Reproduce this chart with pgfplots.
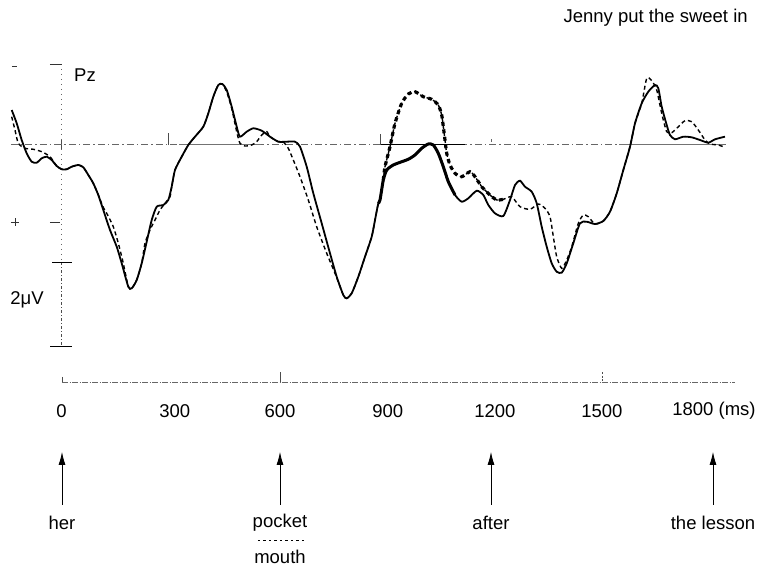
\documentclass[border=0pt]{standalone}
\usepackage{pgfplots}
\pgfplotsset{compat=1.18}
\usepackage{pgfplotstable}
\usepackage{fontspec}
\setmainfont{Liberation Sans}
\usetikzlibrary{arrows.meta}

% pocket (solid): time in ms, amplitude in microvolt (negative plotted up)
\pgfplotstableread{
t v
-137.7 -0.821
-123.7 -0.505
-109.8 -0.107
-95.8 0.210
-81.8 0.410
-67.9 0.433
-53.9 0.329
-39.9 0.290
-26.0 0.369
-12.0 0.512
2.0 0.590
15.9 0.590
29.9 0.529
48.3 0.488
62.3 0.543
76.3 0.726
90.2 0.924
104.2 1.202
118.2 1.560
136.9 2.036
155.6 2.433
169.6 2.829
188.0 3.386
197.5 3.424
211.5 3.226
225.4 2.829
239.4 2.314
253.4 1.798
267.3 1.481
285.8 1.440
299.7 1.321
309.2 1.005
318.4 0.607
337.2 0.290
355.6 0.012
374.3 -0.186
397.5 -0.424
411.5 -0.743
425.4 -1.138
439.4 -1.417
450.6 -1.440
462.9 -1.298
476.8 -0.900
490.8 -0.424
500.0 -0.186
518.7 -0.305
537.2 -0.386
560.6 -0.329
583.8 -0.186
607.0 -0.067
630.4 -0.067
653.6 -0.067
667.6 0.052
686.3 0.529
704.8 1.162
728.2 1.876
751.4 2.590
770.1 3.148
788.5 3.583
798.0 3.662
812.0 3.543
830.5 3.148
849.2 2.671
867.9 2.195
877.1 1.798
886.3 1.400
891.1 1.321
900.3 0.845
909.8 0.607
928.2 0.488
951.7 0.410
970.1 0.352
988.8 0.250
1007.5 0.090
1026.0 -0.012
1040.0 0.012
1053.9 0.210
1067.9 0.529
1081.9 0.886
1100.6 1.202
1119.3 1.362
1137.7 1.281
1161.2 1.100
1179.6 1.202
1193.6 1.440
1212.3 1.638
1235.5 1.702
1254.2 1.321
1268.2 0.964
1282.1 0.862
1296.1 1.005
1314.8 1.124
1328.8 1.400
1342.7 1.957
1356.7 2.433
1370.7 2.829
1384.6 3.029
1398.6 3.052
1412.6 2.829
1431.0 2.352
1449.7 1.876
1468.4 1.838
1491.6 1.893
1514.8 1.821
1533.5 1.600
1552.3 1.162
1570.7 0.607
1589.4 0.052
1603.4 -0.505
1622.1 -0.981
1640.5 -1.257
1659.2 -1.417
1668.5 -1.338
1677.9 -0.900
1691.9 -0.464
1701.1 -0.226
1715.1 -0.124
1738.3 -0.186
1761.7 -0.171
1784.9 -0.107
1808.1 -0.043
1826.8 -0.124
1854.7 -0.186
}\solid

% mouth (dashed)
\pgfplotstableread{
t v
-137.7 -0.662
-128.5 -0.345
-119.3 -0.029
-100.6 0.090
-77.4 0.114
-53.9 0.171
-30.7 0.290
-12.0 0.512
2.0 0.590
15.9 0.590
29.9 0.529
48.3 0.488
62.3 0.543
76.3 0.726
90.2 0.924
104.2 1.202
118.2 1.500
127.7 1.638
146.1 1.957
160.1 2.352
173.2 2.798
188.0 3.386
197.5 3.424
211.5 3.226
225.4 2.829
234.6 2.352
248.6 2.036
262.6 1.798
276.5 1.560
290.5 1.400
304.5 1.243
309.2 1.005
318.4 0.607
337.2 0.290
355.6 0.012
374.3 -0.186
397.5 -0.424
411.5 -0.743
425.4 -1.138
439.4 -1.417
450.6 -1.440
462.9 -1.250
476.8 -0.860
490.8 -0.305
500.0 -0.029
514.0 0.036
532.7 0.012
546.6 -0.067
560.6 -0.226
574.6 -0.305
583.8 -0.186
607.0 -0.067
620.0 -0.067
634.9 0.090
648.9 0.369
667.6 0.767
690.8 1.321
714.2 1.957
742.2 2.590
765.4 3.067
788.5 3.583
798.0 3.662
812.0 3.543
830.5 3.148
849.2 2.671
867.9 2.195
877.1 1.798
886.3 1.400
891.1 1.321
900.3 0.845
905.0 0.529
919.0 0.052
933.0 -0.505
951.7 -0.981
970.1 -1.202
988.8 -1.257
1012.0 -1.138
1035.5 -1.076
1053.9 -0.940
1063.4 -0.702
1067.9 -0.424
1072.6 -0.107
1077.4 0.210
1086.6 0.488
1100.6 0.686
1119.3 0.767
1142.5 0.648
1156.5 0.767
1175.2 1.005
1198.3 1.202
1217.1 1.321
1235.5 1.305
1258.9 1.243
1282.1 1.481
1310.1 1.543
1333.3 1.417
1352.0 1.519
1365.9 1.719
1375.2 2.195
1384.6 2.671
1398.6 2.948
1412.6 2.750
1426.6 2.433
1445.0 1.876
1459.0 1.679
1472.9 1.719
1491.6 1.893
1514.8 1.821
1533.5 1.600
1552.3 1.162
1570.7 0.607
1589.4 0.052
1603.4 -0.505
1622.1 -0.981
1636.1 -1.576
1650.0 -1.519
1664.0 -1.298
1677.9 -0.743
1691.9 -0.305
1705.9 -0.281
1724.4 -0.424
1743.0 -0.567
1761.7 -0.543
1780.2 -0.345
1798.9 -0.107
1812.9 -0.012
1836.1 0.012
1854.7 0.067
}\dashedtab

\begin{document}
\begin{tikzpicture}[every node/.append style={font=\fontsize{18.5}{22}\selectfont, inner sep=0pt}]
\begin{axis}[
  scale only axis, width=759pt, height=573pt,
  xmin=-170.39, xmax=1949.72, ymin=-3.4405, ymax=10.2024,
  y dir=reverse, axis lines=none, clip=false,
]
\path (rel axis cs:0,0) rectangle (rel axis cs:1,1);
% baseline
\draw[black!60, line width=0.9pt, dash pattern=on 7pt off 3pt on 1.5pt off 3pt] (axis cs:-140,0) -- (axis cs:1858,0);
\draw[black, line width=1.6pt] (axis cs:891,0) -- (axis cs:1128,0);
\draw[black!55, line width=1.4pt] (axis cs:1560,0) -- (axis cs:1850,0);
\draw[black!55, line width=1pt] (axis cs:330,0) -- (axis cs:560,0);
\draw[black!70, line width=0.8pt] (axis cs:0,-0.12) -- (axis cs:0,0.12);
\draw[black!70, line width=0.8pt] (axis cs:299,-0.27) -- (axis cs:299,0);
\draw[black!70, line width=0.8pt] (axis cs:891,-0.25) -- (axis cs:891,0);
\draw[black!60, line width=0.8pt] (axis cs:1201,-0.12) -- (axis cs:1201,-0.06);
% voltage scale
\draw[black!60, line width=0.7pt, dash pattern=on 1pt off 4pt] (axis cs:0,-1.917) -- (axis cs:0,2.798);
\draw[black!70, line width=0.7pt, dash pattern=on 3pt off 2pt on 1pt off 2pt] (axis cs:0,2.798) -- (axis cs:0,4.798);
\draw[black!80, line width=0.8pt] (axis cs:-137,-1.87) -- (axis cs:-123,-1.87);
\draw[black!80, line width=0.8pt] (axis cs:-31,-1.917) -- (axis cs:3,-1.917);
\draw[black!80, line width=0.8pt] (axis cs:-139.7,1.845) -- (axis cs:-117.3,1.845);
\draw[black!80, line width=0.8pt] (axis cs:-128.5,1.75) -- (axis cs:-128.5,1.94);
\draw[black!80, line width=0.8pt] (axis cs:-31,1.845) -- (axis cs:-3,1.845);
\draw[black, line width=0.9pt] (axis cs:-25,2.798) -- (axis cs:30.7,2.798);
\draw[black, line width=0.9pt] (axis cs:-30.7,4.798) -- (axis cs:30.7,4.798);
\node at (axis cs:-95,3.70) {2μV};
\node at (axis cs:67,-1.655) {Pz};
\node at (axis cs:1661,-3.012) {Jenny put the sweet in};
% waveforms
\addplot[black, line width=1.4pt, dash pattern=on 4pt off 3pt, smooth, tension=0.4] table[x=t,y=v] {\dashedtab};
\addplot[black, line width=3.2pt, dash pattern=on 4pt off 3.5pt, smooth, tension=0.4, restrict x to domain=900:1236] table[x=t,y=v] {\dashedtab};
\addplot[black, line width=1.8pt, smooth, tension=0.4] table[x=t,y=v] {\solid};
\addplot[black, line width=3pt, smooth, tension=0.4, restrict x to domain=886:1101] table[x=t,y=v] {\solid};
% time axis
\draw[black!60, line width=0.8pt, dash pattern=on 6pt off 1.5pt on 1pt off 1.5pt] (axis cs:2.8,5.655) -- (axis cs:1882,5.655);
\draw[black!70, line width=0.8pt] (axis cs:2.8,5.53) -- (axis cs:2.8,5.655);
\draw[black!70, line width=0.8pt] (axis cs:612,5.417) -- (axis cs:612,5.655);
\draw[black!70, line width=0.8pt, dash pattern=on 2pt off 1.5pt] (axis cs:1511,5.417) -- (axis cs:1511,5.655);
\node at (axis cs:1.7,6.345) {0};
\node at (axis cs:318,6.345) {300};
\node at (axis cs:612,6.345) {600};
\node at (axis cs:913,6.345) {900};
\node at (axis cs:1212,6.345) {1200};
\node at (axis cs:1511,6.345) {1500};
\node at (axis cs:1824,6.345) {1800 (ms)};
% word onsets
\draw[black, line width=0.8pt, -{Latex[length=13pt,width=7pt]}] (axis cs:2.8,8.58) -- (axis cs:2.8,7.32);
\draw[black, line width=0.8pt, -{Latex[length=13pt,width=7pt]}] (axis cs:611.7,8.58) -- (axis cs:611.7,7.32);
\draw[black, line width=0.8pt, -{Latex[length=13pt,width=7pt]}] (axis cs:1201.1,8.58) -- (axis cs:1201.1,7.32);
\draw[black, line width=0.8pt, -{Latex[length=13pt,width=7pt]}] (axis cs:1821.2,8.58) -- (axis cs:1821.2,7.32);
\node at (axis cs:2.8,9.01) {her};
\node at (axis cs:611.7,9.01) {pocket};
\draw[black, line width=1pt, dash pattern=on 2.5pt off 3pt] (axis cs:550,9.44) -- (axis cs:682,9.44);
\node at (axis cs:611.7,9.82) {mouth};
\node at (axis cs:1201.1,9.01) {after};
\node at (axis cs:1821.2,9.01) {the lesson};
\end{axis}
\end{tikzpicture}
\end{document}
